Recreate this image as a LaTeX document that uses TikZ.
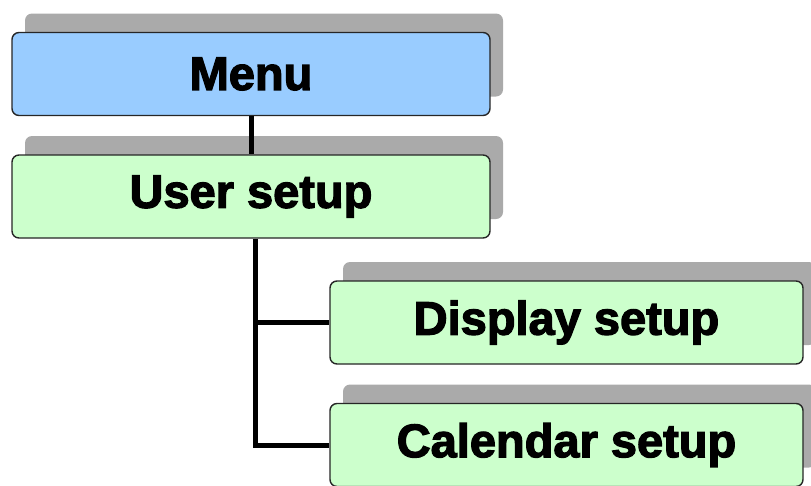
\documentclass[tikz,border=0pt]{standalone}
\usepackage{fontspec}
\setmainfont{Liberation Sans}
\newfontfamily\boxfont[FakeBold=2.6]{Liberation Sans Bold}
\usetikzlibrary{shadows}
\definecolor{menublue}{RGB}{153,204,255}
\definecolor{setupgreen}{RGB}{204,255,204}
\definecolor{shadowgray}{RGB}{170,170,170}
\tikzset{
  menubox/.style={draw=black!85, line width=1.4pt, rounded corners=7pt,
    minimum height=83pt, inner sep=0pt, font=\boxfont\fontsize{47}{52}\selectfont,
    general shadow={fill=shadowgray, shadow xshift=13pt, shadow yshift=19pt}},
  conn/.style={line width=5pt, black}
}
\begin{document}
\begin{tikzpicture}[x=1pt,y=-1pt]
\useasboundingbox (0,0) rectangle (811,485);
\node[menubox, fill=menublue, minimum width=478pt] (menu) at (251,74) {Menu};
\node[menubox, fill=setupgreen, minimum width=478pt] (user) at (251,196.5) {User setup};
\node[menubox, fill=setupgreen, minimum width=473pt] (disp) at (566.5,322.5) {Display setup};
\node[menubox, fill=setupgreen, minimum width=473pt] (cal) at (566.5,445) {Calendar setup};
\coordinate (ubot) at ([xshift=4pt]user.south);
\coordinate (jd) at (ubot |- disp.west);
\coordinate (jc) at (ubot |- cal.west);
\draw[conn] (menu.south) -- (user.north);
\draw[conn] (ubot) -- (jc) -- (cal.west);
\draw[conn] (jd) -- (disp.west);
\end{tikzpicture}
\end{document}
